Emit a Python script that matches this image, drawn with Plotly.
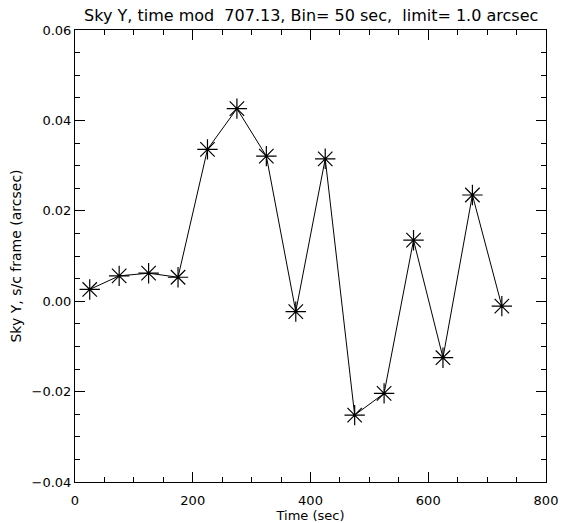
import plotly.graph_objects as go

# Binned sky-Y offsets vs. folded time
time_sec = [25, 75, 125, 175, 225, 275, 325, 375, 425, 475, 525, 575, 625, 675, 725]
sky_y = [0.0026, 0.0056, 0.0062, 0.0053, 0.0336, 0.0426, 0.0321, -0.0023,
         0.0315, -0.0252, -0.0204, 0.0135, -0.0125, 0.0235, -0.0011]

x_ticks = [0, 200, 400, 600, 800]
y_ticks = [-0.04, -0.02, 0.00, 0.02, 0.04, 0.06]
y_tick_text = ["\u22120.04", "\u22120.02", "0.00", "0.02", "0.04", "0.06"]

title_text = "Sky Y, time mod  707.13, Bin= 50 sec,  limit= 1.0 arcsec"
x_title = "Time (sec)"
y_title = "Sky Y, s/c frame (arcsec)"

FONT = "DejaVu Sans"

fig = go.Figure()
fig.add_trace(go.Scatter(
    x=time_sec, y=sky_y, mode="lines+markers",
    line=dict(color="black", width=1),
    marker=dict(symbol="asterisk-open", size=17, color="black",
                line=dict(color="black", width=1.2)),
    showlegend=False,
))

axis_common = dict(
    showgrid=False, zeroline=False, showline=True, linecolor="black",
    linewidth=1, mirror="ticks", ticks="inside", tickcolor="black",
    tickwidth=1, ticklen=10, automargin=False,
    tickfont=dict(family=FONT, size=13, color="black"),
)

fig.update_xaxes(
    range=[0, 800], tickvals=x_ticks, ticktext=[str(v) for v in x_ticks],
    ticklabelstandoff=6,
    minor=dict(dtick=50, ticks="inside", ticklen=5, tickcolor="black", tickwidth=1),
    title=dict(text=x_title, font=dict(family=FONT, size=13, color="black"), standoff=3),
    **axis_common,
)
fig.update_yaxes(
    range=[-0.04, 0.06], tickvals=y_ticks, ticktext=y_tick_text,
    minor=dict(dtick=0.005, tick0=0, ticks="inside", ticklen=5, tickcolor="black", tickwidth=1),
    title=dict(text=y_title, font=dict(family=FONT, size=14, color="black"), standoff=6),
    **axis_common,
)

fig.update_layout(
    width=572, height=523,
    margin=dict(l=75, r=26, t=30, b=41),
    paper_bgcolor="white", plot_bgcolor="white",
    title=dict(text=title_text, x=0.544, xanchor="center", y=0.97, yanchor="middle",
               font=dict(family=FONT, size=16, color="black")),
)

fig.write_html("out.html")
